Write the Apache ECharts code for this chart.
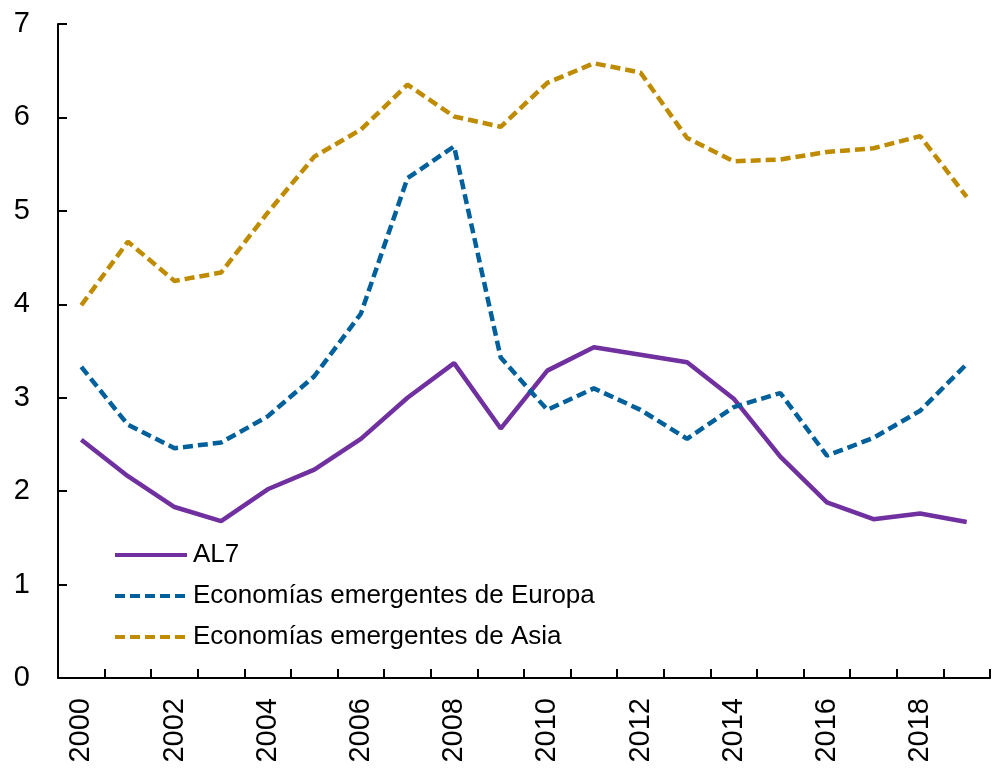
<!DOCTYPE html>
<html>
<head>
<meta charset="utf-8">
<script src="https://cdn.jsdelivr.net/npm/echarts@6/dist/echarts.min.js"></script>
<style>
  html, body { margin: 0; padding: 0; background: #fff; }
  #chart { width: 992px; height: 769px; }
</style>
</head>
<body>
<div id="chart"></div>
<script>
const years = ['2000', '2001', '2002', '2003', '2004', '2005', '2006', '2007', '2008', '2009',
  '2010', '2011', '2012', '2013', '2014', '2015', '2016', '2017', '2018', '2019']
const al7 = [2.55, 2.16, 1.83, 1.68, 2.02, 2.23, 2.56, 3.00, 3.37, 2.67,
  3.29, 3.54, 3.46, 3.38, 2.99, 2.37, 1.88, 1.70, 1.76, 1.67]
const europa = [3.33, 2.71, 2.46, 2.52, 2.80, 3.23, 3.90, 5.35, 5.69, 3.43,
  2.87, 3.10, 2.87, 2.56, 2.90, 3.05, 2.38, 2.57, 2.86, 3.36]
const asia = [3.99, 4.67, 4.25, 4.34, 4.98, 5.58, 5.87, 6.35, 6.01, 5.90,
  6.37, 6.58, 6.48, 5.78, 5.53, 5.55, 5.63, 5.67, 5.80, 5.15]

const chart = echarts.init(document.getElementById('chart'))
const font = 'Liberation Sans, Arial, sans-serif'

function line(name, data, color, dashed) {
  return {
    name: name,
    type: 'line',
    data: data,
    symbol: 'none',
    showSymbol: false,
    lineStyle: {
      color: color,
      width: 4.5,
      type: dashed ? [10, 5] : 'solid'
    },
    itemStyle: { color: color }
  }
}

const option = {
  animation: false,
  backgroundColor: '#fff',
  grid: { left: 58, right: 2, top: 24, bottom: 91 },
  legend: {
    orient: 'vertical',
    left: 108,
    top: 537,
    itemWidth: 72,
    itemHeight: 14,
    itemGap: 15,
    itemStyle: { opacity: 0 },
    lineStyle: { width: 4 },
    textStyle: { fontFamily: font, fontSize: 26, color: '#000', padding: [0, 0, 0, 1] },
    data: ['AL7', 'Economías emergentes de Europa', 'Economías emergentes de Asia']
  },
  xAxis: {
    type: 'category',
    data: years,
    boundaryGap: true,
    axisLine: { lineStyle: { color: '#000', width: 2 } },
    axisTick: { show: true, inside: true, length: 9, interval: 0, lineStyle: { color: '#000', width: 2 } },
    axisLabel: {
      interval: 1,
      rotate: 90,
      margin: 20,
      fontFamily: font,
      fontSize: 29,
      color: '#000'
    }
  },
  yAxis: {
    type: 'value',
    min: 0,
    max: 7,
    interval: 1,
    splitLine: { show: false },
    axisLine: { show: true, lineStyle: { color: '#000', width: 2 } },
    axisTick: { show: true, inside: true, length: 9, lineStyle: { color: '#000', width: 2 } },
    axisLabel: { margin: 28, fontFamily: font, fontSize: 29, color: '#000' }
  },
  series: [
    line('AL7', al7, '#7030A0', false),
    line('Economías emergentes de Europa', europa, '#00609C', true),
    line('Economías emergentes de Asia', asia, '#BF8B00', true)
  ]
}
chart.setOption(option)
</script>
</body>
</html>
